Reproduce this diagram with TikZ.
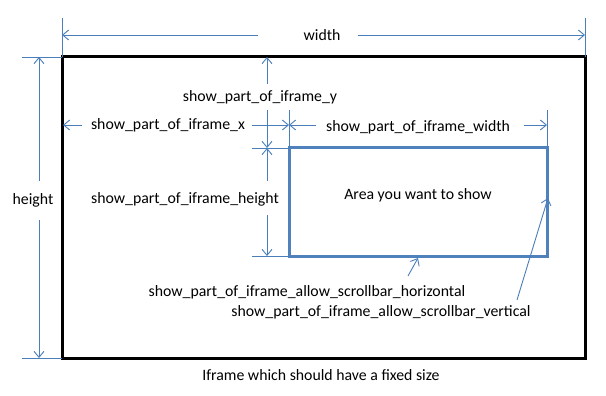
\documentclass[tikz,border=0pt]{standalone}
\usepackage{fontspec}
\setmainfont{Carlito}
\usetikzlibrary{arrows.meta}
\definecolor{dimblue}{HTML}{4A7EBB}
\definecolor{areablue}{HTML}{4F81BD}
\begin{document}
\begin{tikzpicture}[x=1pt,y=-1pt,
  dim/.style={draw=dimblue, line width=0.9pt},
  dimarrow/.style={dim, -{Straight Barb[length=6pt,width=10pt,line width=0.9pt]}},
  lbl/.style={font=\fontsize{15.8}{18}\selectfont, inner sep=0pt, text=black},
  frame/.style={draw=black, line width=3pt},
  area/.style={draw=areablue, line width=3pt}]
\useasboundingbox (0,0) rectangle (606,396);
% frame and area
\coordinate (fTL) at (62,57); \coordinate (fBR) at (585,358);
\draw[frame] (fTL) rectangle (fBR);
\coordinate (aTL) at (289,148); \coordinate (aBR) at (547,256);
\draw[area] (aTL) rectangle (aBR);
\node[lbl] (area) at (418,195) {Area you want to show};
% width
\node[lbl] (wlbl) at (322,35) {width};
\coordinate (wL) at (62,35); \coordinate (wR) at (585,35);
\coordinate (wLg) at (258,35); \coordinate (wRg) at (358,35);
\draw[dimarrow] (wLg) -- (wL);
\draw[dimarrow] (wRg) -- (wR);
\coordinate (weL1) at (62,18); \coordinate (weL2) at (62,57);
\coordinate (weR1) at (585,18); \coordinate (weR2) at (585,57);
\draw[dim] (weL1) -- (weL2); \draw[dim] (weR1) -- (weR2);
% height
\node[lbl] (hlbl) at (33,200) {height};
\coordinate (hT) at (39,57); \coordinate (hB) at (39,358);
\coordinate (hTg) at (39,181); \coordinate (hBg) at (39,220);
\draw[dimarrow] (hTg) -- (hT);
\draw[dimarrow] (hBg) -- (hB);
\coordinate (heT1) at (22,57); \coordinate (heT2) at (62,57);
\coordinate (heB1) at (22,358); \coordinate (heB2) at (62,358);
\draw[dim] (heT1) -- (heT2); \draw[dim] (heB1) -- (heB2);
% show_part_of_iframe_y
\node[lbl] (ylbl) at (260,97) {show\_part\_of\_iframe\_y};
\coordinate (yT) at (267,57); \coordinate (yB) at (267,148);
\coordinate (yTg) at (267,84); \coordinate (yBg) at (267,110);
\draw[dimarrow] (yTg) -- (yT);
\draw[dimarrow] (yBg) -- (yB);
% show_part_of_iframe_x
\node[lbl] (xlbl) at (168,125) {show\_part\_of\_iframe\_x};
\coordinate (xL) at (63,125); \coordinate (xR) at (289,125);
\coordinate (xLg) at (82,125); \coordinate (xRg) at (252,125);
\draw[dimarrow] (xLg) -- (xL);
\draw[dimarrow] (xRg) -- (xR);
% show_part_of_iframe_width
\node[lbl] (wdlbl) at (418,127) {show\_part\_of\_iframe\_width};
\coordinate (wdL) at (289,125); \coordinate (wdR) at (547,125);
\coordinate (wdLg) at (316,125); \coordinate (wdRg) at (524,125);
\draw[dimarrow] (wdLg) -- (wdL);
\draw[dimarrow] (wdRg) -- (wdR);
% extension lines for area
\coordinate (eL1) at (289,110); \coordinate (eL2) at (289,148);
\coordinate (eR1) at (547,110); \coordinate (eR2) at (547,148);
\draw[dim] (eL1) -- (eL2); \draw[dim] (eR1) -- (eR2);
\coordinate (eT1) at (252,148); \coordinate (eT2) at (289,148);
\coordinate (eB1) at (252,256); \coordinate (eB2) at (289,256);
\draw[dim] (eT1) -- (eT2); \draw[dim] (eB1) -- (eB2);
% show_part_of_iframe_height
\node[lbl] (htlbl) at (185,199) {show\_part\_of\_iframe\_height};
\coordinate (htT) at (267,148); \coordinate (htB) at (267,256);
\coordinate (htTg) at (267,181); \coordinate (htBg) at (267,215);
\draw[dimarrow] (htTg) -- (htT);
\draw[dimarrow] (htBg) -- (htB);
% scrollbars
\node[lbl] (shlbl) at (307,292) {show\_part\_of\_iframe\_allow\_scrollbar\_horizontal};
\coordinate (shS) at (408,276); \coordinate (shE) at (418,258);
\draw[dimarrow] (shS) -- (shE);
\node[lbl] (svlbl) at (381,312) {show\_part\_of\_iframe\_allow\_scrollbar\_vertical};
\coordinate (svS) at (517,300); \coordinate (svE) at (548,198);
\draw[dimarrow] (svS) -- (svE);
% caption
\node[lbl] (cap) at (321,375) {Iframe which should have a fixed size};
\end{tikzpicture}
\end{document}
